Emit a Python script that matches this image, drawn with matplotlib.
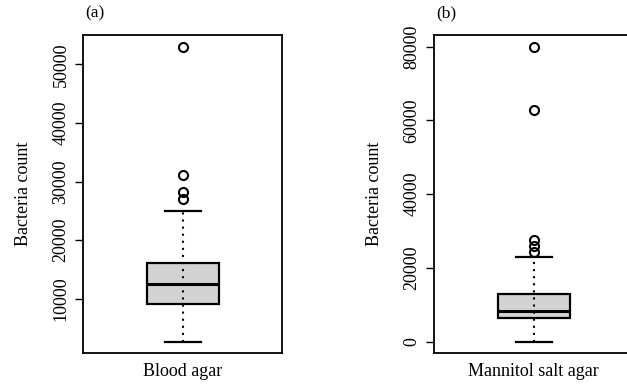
import numpy as np
import matplotlib.pyplot as plt

plt.rcParams['font.family'] = ['Liberation Serif', 'DejaVu Serif']

# five-number summaries and outliers per medium
blood_stats = dict(whislo=2700, q1=9150, med=12600, q3=16100, whishi=25050)
blood_fliers = [27100, 28250, 31100, 53000]
blood_ticks = [10000, 20000, 30000, 40000, 50000]

mannitol_stats = dict(whislo=0, q1=6300, med=8400, q3=12900, whishi=22900)
mannitol_fliers = [24200, 25800, 27500, 62900, 80000]
mannitol_ticks = [0, 20000, 40000, 60000, 80000]

panels = [
    ("(a)", "Blood agar", blood_stats, blood_fliers, blood_ticks),
    ("(b)", "Mannitol salt agar", mannitol_stats, mannitol_fliers, mannitol_ticks),
]

fig = plt.figure(figsize=(6.27, 3.85), dpi=100)
lefts = [0.1329, 0.6927]

for left, (tag, name, st, fl, ticks) in zip(lefts, panels):
    ax = fig.add_axes([left, 0.0823, 0.3174, 0.8268])
    stats = dict(st, fliers=fl)
    ax.bxp([stats], positions=[1], widths=0.363, capwidths=0.182,
           patch_artist=True, showfliers=True,
           boxprops=dict(facecolor='#d3d3d3', edgecolor='black', linewidth=1.6),
           medianprops=dict(color='black', linewidth=2.2),
           whiskerprops=dict(linewidth=0),
           capprops=dict(color='black', linewidth=1.6),
           flierprops=dict(marker='o', markerfacecolor='none', markeredgecolor='black',
                           markersize=6.5, markeredgewidth=1.5))
    # dotted whisker drawn over the box
    ax.vlines(1, st['whislo'], st['whishi'], colors='black', linewidth=1.5,
              linestyles=(0, (1, 2.4)), zorder=5)

    lo = min(st['whislo'], min(fl))
    hi = max(st['whishi'], max(fl))
    pad = 0.04 * (hi - lo)
    ax.set_ylim(lo - pad, hi + pad)
    ax.set_xlim(0.5, 1.5)
    ax.set_xticks([])
    ax.set_yticks(ticks)
    ax.set_yticklabels([str(t) for t in ticks], rotation=90, va='center', fontsize=13)
    ax.tick_params(axis='y', length=6, width=1, pad=4)
    ax.set_ylabel("Bacteria count", fontsize=13, labelpad=15)
    ax.set_xlabel(name, fontsize=13, labelpad=7)
    for s in ax.spines.values():
        s.set_linewidth(1.3)
    fig.text(left + 0.019, 0.965, tag, fontsize=12.5, va='center', ha='center')

fig.savefig("out.png", dpi=100)
